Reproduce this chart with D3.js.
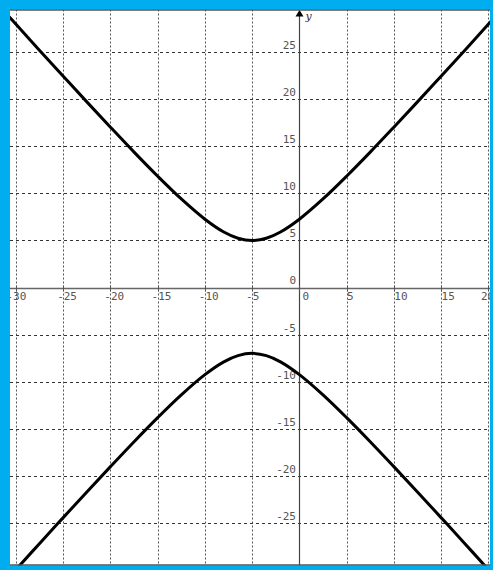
<!DOCTYPE html>
<html>
<head>
<meta charset="utf-8">
<script src="https://cdn.jsdelivr.net/npm/d3@7"></script>
<style>
  html, body { margin: 0; padding: 0; background: #fff; }
  svg { display: block; }
</style>
</head>
<body>
<svg id="chart" width="493" height="570"></svg>
<script>
// ---- data ----
const xTicks = [-30, -25, -20, -15, -10, -5, 0, 5, 10, 15, 20];
const yTicks = [-25, -20, -15, -10, -5, 0, 5, 10, 15, 20, 25];
const xTickLabels = ["-30", "-25", "-20", "-15", "-10", "-5", "0", "5", "10", "15", "20"];
const yTickLabels = ["-25", "-20", "-15", "-10", "-5", "0", "5", "10", "15", "20", "25"];

// upper branch (x, y)
const upperX = [-31, -30, -27.5, -25, -22.5, -20, -17.5, -15, -12.5, -10, -8, -6.5, -5, -3.5, -2, 0, 2.5, 5, 7.5, 10, 12.5, 15, 17.5, 20, 21];
const upperY = [29.08, 27.98, 25.2, 22.46, 19.73, 17.04, 14.39, 11.83, 9.41, 7.26, 5.9, 5.24, 5, 5.24, 5.9, 7.26, 9.41, 11.83, 14.39, 17.04, 19.73, 22.46, 25.2, 27.98, 29.08];
// lower branch (x, y)
const lowerX = [-31, -30, -27.5, -25, -22.5, -20, -17.5, -15, -12.5, -10, -8, -6.5, -5, -3.5, -2, 0, 2.5, 5, 7.5, 10, 12.5, 15, 17.5, 20, 21];
const lowerY = [-31.08, -29.98, -27.2, -24.46, -21.73, -19.04, -16.39, -13.83, -11.41, -9.26, -7.9, -7.24, -7, -7.24, -7.9, -9.26, -11.41, -13.83, -16.39, -19.04, -21.73, -24.46, -27.2, -29.98, -31.08];

// ---- drawing ----
const W = 493, H = 570;
const plot = { left: 10, top: 9.5, right: 490, bottom: 565.5 };
const svg = d3.select("#chart");

const x = d3.scaleLinear().domain([-30, 20]).range([16, 488.3]);
const y = d3.scaleLinear().domain([-25, 25]).range([522.7, 52.3]);

// blue frame
svg.append("rect").attr("x", 0).attr("y", 0).attr("width", W).attr("height", H).attr("fill", "#00AEEF");
svg.append("rect").attr("x", plot.left).attr("y", plot.top)
  .attr("width", plot.right - plot.left).attr("height", plot.bottom - plot.top).attr("fill", "#fff");

svg.append("defs").append("clipPath").attr("id", "clip")
  .append("rect").attr("x", plot.left).attr("y", plot.top)
  .attr("width", plot.right - plot.left).attr("height", plot.bottom - plot.top);

const g = svg.append("g").attr("clip-path", "url(#clip)");

// grid
g.selectAll("line.vgrid").data(xTicks.filter(d => d !== 0)).enter().append("line")
  .attr("x1", d => Math.round(x(d)) + 0.5).attr("x2", d => Math.round(x(d)) + 0.5)
  .attr("y1", plot.top).attr("y2", plot.bottom)
  .attr("stroke", "#555").attr("stroke-width", 1).attr("stroke-dasharray", "2,2");
g.selectAll("line.hgrid").data(yTicks.filter(d => d !== 0)).enter().append("line")
  .attr("y1", d => Math.round(y(d)) + 0.5).attr("y2", d => Math.round(y(d)) + 0.5)
  .attr("x1", plot.left).attr("x2", plot.right)
  .attr("stroke", "#333").attr("stroke-width", 1).attr("stroke-dasharray", "3,3");

// axes
const y0 = Math.round(y(0)) + 0.5, x0 = Math.round(x(0)) + 0.5;
g.append("line").attr("x1", plot.left).attr("x2", plot.right).attr("y1", y0).attr("y2", y0)
  .attr("stroke", "#666").attr("stroke-width", 1.5);
g.append("line").attr("x1", x0).attr("x2", x0).attr("y1", plot.top + 4).attr("y2", plot.bottom)
  .attr("stroke", "#444").attr("stroke-width", 1.2);
// x tick marks
g.selectAll("line.xt").data(xTicks).enter().append("line")
  .attr("x1", d => Math.round(x(d)) + 0.5).attr("x2", d => Math.round(x(d)) + 0.5)
  .attr("y1", y0 - 3).attr("y2", y0 + 3).attr("stroke", "#555").attr("stroke-width", 1);
// arrow
g.append("path").attr("d", `M${x0},${plot.top + 0.5} L${x0 - 4},${plot.top + 7} L${x0 + 4},${plot.top + 7} Z`)
  .attr("fill", "#000");
g.append("text").attr("x", x0 + 6).attr("y", 20).text("y")
  .attr("font-family", "DejaVu Serif, serif").attr("font-style", "italic").attr("font-size", 11).attr("fill", "#333");

// tick labels
const font = "DejaVu Sans Mono, monospace";
const charW = 6.6;
const xLabelPos = (d, i) => {
  const lbl = xTickLabels[i];
  const neg = lbl.startsWith("-");
  let px = x(d) + (d === 0 ? 3 : 0.5) - (neg ? charW : 0);
  if (i === 0) px = 13 - charW;                // first label nudged, minus hidden under frame
  if (i === xTicks.length - 1) px = 481;       // last label nudged left, cut at frame
  return px;
};
g.selectAll("text.xl").data(xTicks).enter().append("text")
  .attr("x", xLabelPos)
  .attr("y", 299.5)
  .attr("font-family", font).attr("font-size", 11).attr("fill", "#555")
  .text((d, i) => xTickLabels[i]);
g.selectAll("text.yl").data(yTicks).enter().append("text")
  .attr("x", x0 - 3.5).attr("y", d => y(d) - (d === 0 ? 4 : 3))
  .attr("text-anchor", "end")
  .attr("font-family", font).attr("font-size", 11).attr("fill", "#555")
  .text((d, i) => yTickLabels[i]);

// curves
const line = d3.line().x(d => x(d[0])).y(d => y(d[1])).curve(d3.curveCatmullRom.alpha(0.5));
g.append("path").datum(upperX.map((v, i) => [v, upperY[i]]))
  .attr("d", line).attr("fill", "none").attr("stroke", "#000").attr("stroke-width", 3);
g.append("path").datum(lowerX.map((v, i) => [v, lowerY[i]]))
  .attr("d", line).attr("fill", "none").attr("stroke", "#000").attr("stroke-width", 3);

// top/bottom dark edges
svg.append("line").attr("x1", plot.left).attr("x2", plot.right).attr("y1", plot.top + 0.5).attr("y2", plot.top + 0.5)
  .attr("stroke", "#555").attr("stroke-width", 1.5);
svg.append("line").attr("x1", plot.left).attr("x2", plot.right).attr("y1", plot.bottom - 0.5).attr("y2", plot.bottom - 0.5)
  .attr("stroke", "#555").attr("stroke-width", 1.5);
</script>
</body>
</html>
